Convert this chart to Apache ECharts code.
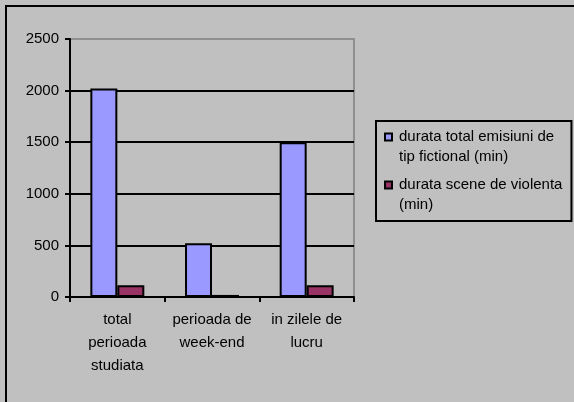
<!DOCTYPE html>
<html>
<head>
<meta charset="utf-8">
<script src="https://cdn.jsdelivr.net/npm/echarts@6/dist/echarts.min.js"></script>
<style>
  html, body { margin: 0; padding: 0; background: #c0c0c0; }
  #chart { width: 574px; height: 402px; }
</style>
</head>
<body>
<div id="chart"></div>
<script>
const categories = ['total\nperioada\nstudiata', 'perioada de\nweek-end', 'in zilele de\nlucru'];
const seriesNames = ['durata total emisiuni de\ntip fictional (min)', 'durata scene de violenta\n(min)'];
const totalFiction = [2020, 520, 1500];
const violence = [115, 20, 115];
const yTicks = [0, 500, 1000, 1500, 2000, 2500];

const FONT = '"Liberation Sans", Arial, sans-serif';
// square marker sitting next to the first text line
const LEGEND_ICON = 'path://M0,0M9,40M0,6.5L7,6.5L7,13.5L0,13.5Z';

const chart = echarts.init(document.getElementById('chart'));

chart.setOption({
    animation: false,
    backgroundColor: '#c0c0c0',
    textStyle: { fontFamily: FONT, color: '#000' },
    graphic: [{
        type: 'rect',
        shape: { x: 6, y: 6, width: 700, height: 700 },
        style: { fill: null, stroke: '#000', lineWidth: 2 },
        silent: true
    }],
    grid: {
        left: 70,
        top: 39,
        right: 220,
        bottom: 105,
        show: true,
        borderColor: '#808080',
        borderWidth: 1.5,
        backgroundColor: 'transparent'
    },
    legend: {
        orient: 'vertical',
        left: 376,
        top: 121,
        padding: [5, 9, 5, 8],
        itemGap: 6,
        itemWidth: 9,
        itemHeight: 40,
        borderColor: '#000',
        borderWidth: 2,
        backgroundColor: '#c0c0c0',
        textStyle: { fontSize: 15, lineHeight: 20, color: '#000', fontFamily: FONT },
        data: seriesNames.map((n) => ({ name: n, icon: LEGEND_ICON }))
    },
    xAxis: {
        type: 'category',
        data: categories,
        boundaryGap: true,
        axisLine: { lineStyle: { color: '#000', width: 2 } },
        axisTick: { show: true, length: 5, lineStyle: { color: '#000', width: 2 } },
        axisLabel: { margin: 11, fontSize: 15, lineHeight: 23, color: '#000', fontFamily: FONT, interval: 0 }
    },
    yAxis: {
        type: 'value',
        min: yTicks[0],
        max: yTicks[yTicks.length - 1],
        interval: 500,
        axisLine: { show: true, lineStyle: { color: '#000', width: 2 } },
        axisTick: { show: true, length: 5, lineStyle: { color: '#000', width: 2 } },
        axisLabel: { margin: 11, fontSize: 15, color: '#000', fontFamily: FONT, formatter: (v) => String(v) },
        splitLine: { show: true, showMaxLine: false, lineStyle: { color: '#000', width: 2 } }
    },
    series: [{
        name: seriesNames[0],
        type: 'bar',
        data: totalFiction,
        barGap: '0%',
        barCategoryGap: '43%',
        itemStyle: { color: '#9999ff', borderColor: '#000', borderWidth: 2 }
    }, {
        name: seriesNames[1],
        type: 'bar',
        data: violence,
        itemStyle: { color: '#993366', borderColor: '#000', borderWidth: 2 }
    }]
});
</script>
</body>
</html>
